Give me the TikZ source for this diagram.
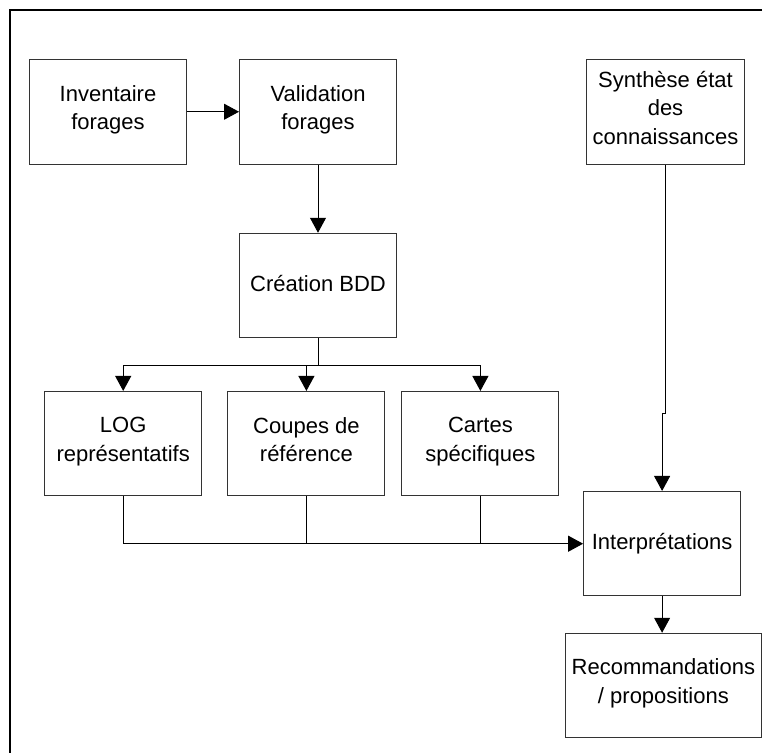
\documentclass[tikz,border=0pt]{standalone}
\usepackage{fontspec}
\setmainfont{Liberation Sans}
\usetikzlibrary{arrows.meta}
\begin{document}
\begin{tikzpicture}[x=1pt,y=-1pt,
  box/.style={draw=black!80, line width=1pt, rectangle, inner sep=0pt,
    minimum width=157pt, minimum height=104.5pt, align=center,
    font=\fontsize{22}{28.5}\selectfont,
    execute at begin node=\strut, execute at end node=\strut},
  conn/.style={draw=black, line width=1pt},
  arr/.style={conn, -{Triangle[length=15pt,width=16pt]}},
  frame/.style={draw=black, line width=2.5pt}]
\useasboundingbox (0,0) rectangle (767,753);
\draw[frame] (762,10) -- (10,10) -- (10,753);

\node[box] (inv) at (108,111.75) {Inventaire\\forages};
\node[box] (val) at (318,111.75) {Validation\\forages};
\node[box, minimum width=157.6pt] (syn) at (665.5,111.75) {Synthèse état\\des\\connaissances};
\node[box] (bdd) at (318,285.5) {Création BDD};
\node[box] (log) at (123.2,443.7) {LOG\\représentatifs};
\node[box] (cou) at (306.4,443.7) {Coupes de\\référence};
\node[box] (car) at (480.4,443.7) {Cartes\\spécifiques};
\node[box] (int) at (662.1,543.7) {Interprétations};
\node[box, minimum width=195.3pt] (rec) at (663.4,685.5) {Recommandations\\/ propositions};

\draw[arr] (inv.east) -- (val.west);
\draw[arr] (val.south) -- (bdd.north);
\coordinate (br) at (318,365);
\draw[conn] (bdd.south) -- (br);
\draw[arr] (br) -| (log.north);
\draw[arr] (br) -| (cou.north);
\draw[arr] (br) -| (car.north);
\draw[arr] (syn.south) -- ++(0,249.3) -| (int.north);
\draw[arr] (log.south) |- (int.west);
\draw[conn] (cou.south) -- (cou.south |- int.west);
\draw[conn] (car.south) -- (car.south |- int.west);
\draw[arr] (int.south) -- (int.south |- rec.north);
\end{tikzpicture}
\end{document}
